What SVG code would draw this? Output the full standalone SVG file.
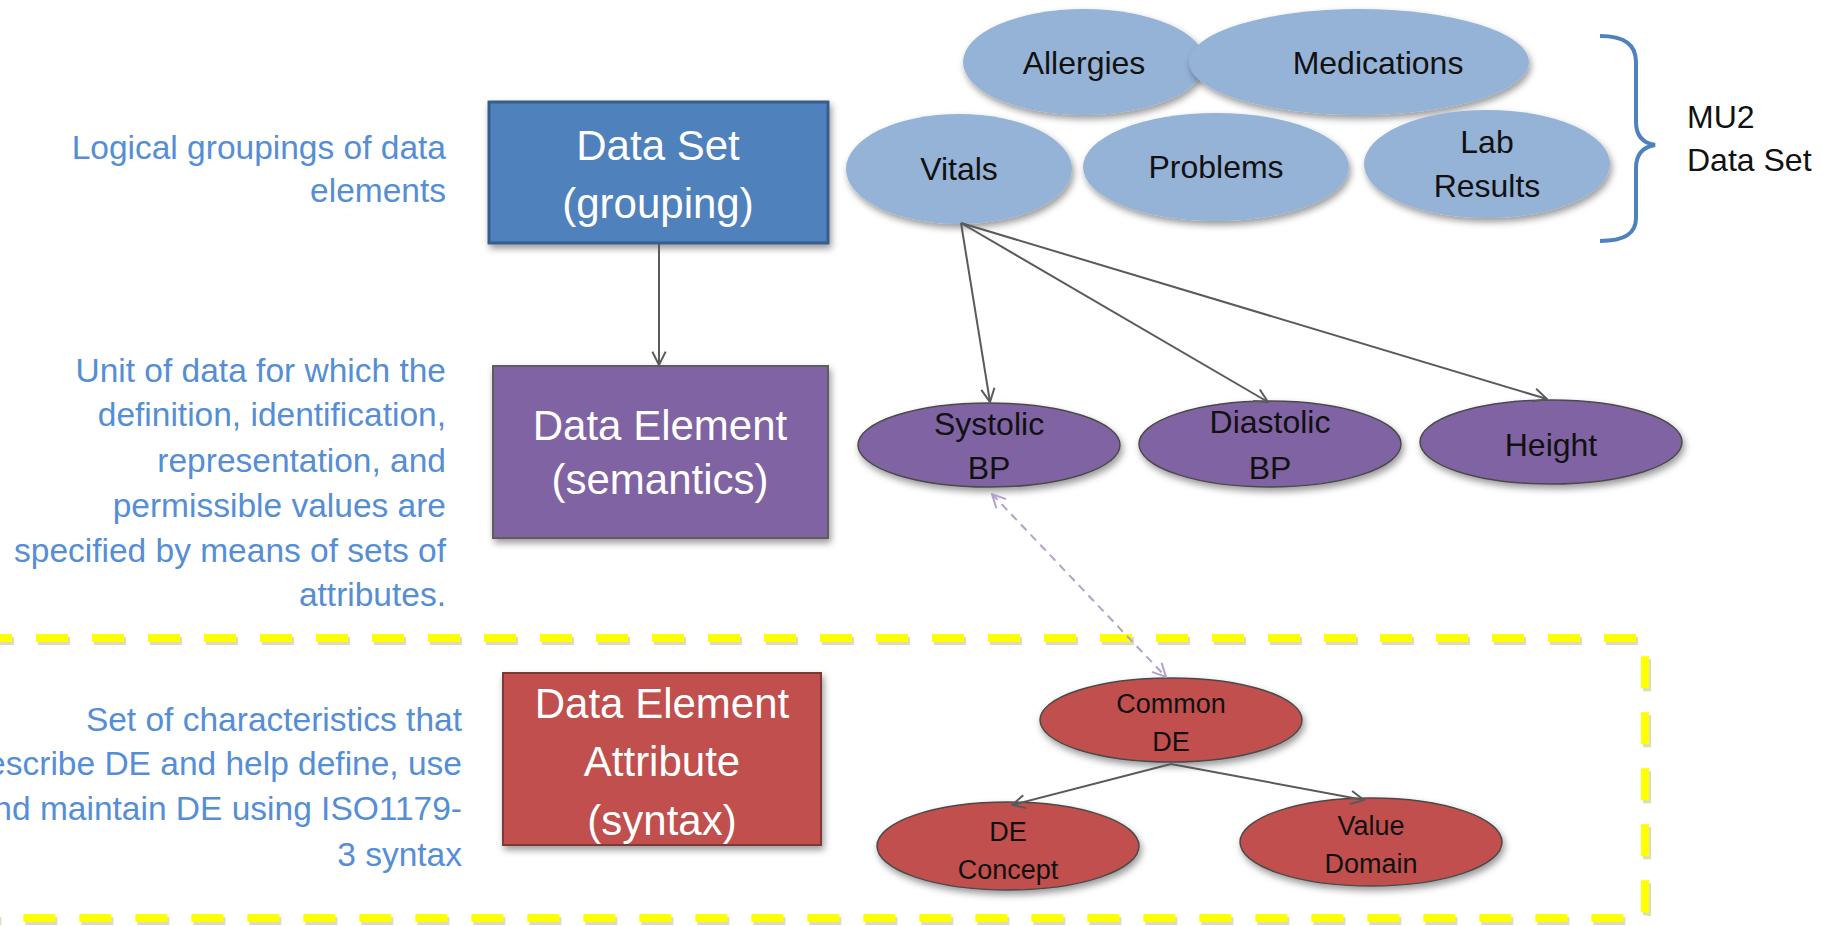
<svg xmlns="http://www.w3.org/2000/svg" width="1823" height="926" viewBox="0 0 1823 926">
<style>
.desc{font-family:"Liberation Sans",Arial,sans-serif;font-size:33.5px;fill:#558ED5;text-anchor:end}
.box{font-family:"Liberation Sans",Arial,sans-serif;font-size:42px;fill:#ffffff;text-anchor:middle}
.el{font-family:"Liberation Sans",Arial,sans-serif;font-size:32px;fill:#111111;text-anchor:middle}
.els{font-family:"Liberation Sans",Arial,sans-serif;font-size:27px;fill:#111111;text-anchor:middle}
.lbl{font-family:"Liberation Sans",Arial,sans-serif;font-size:32px;fill:#111111}
.conn{stroke:#5a5a5a;stroke-width:2;fill:none}
.dash{stroke:#b3a2c7;stroke-width:2;fill:none;stroke-dasharray:8 6}
.blue{fill:#95B3D7}
.purple{fill:#8064A2;stroke:#4a4a4a;stroke-width:1.5}
.red{fill:#C0504D;stroke:#4a4a4a;stroke-width:1.5}
</style>
<defs>
<filter id="sh" x="-20%" y="-20%" width="140%" height="150%">
<feDropShadow dx="2" dy="4" stdDeviation="3.5" flood-color="#000" flood-opacity="0.4"/>
</filter>
<marker id="ah" viewBox="0 0 12 12" refX="11" refY="6" markerWidth="16" markerHeight="16" markerUnits="userSpaceOnUse" orient="auto">
<path d="M1,1 L11,6 L1,11" fill="none" stroke="#5a5a5a" stroke-width="1.5"/>
</marker>
<marker id="ahl" viewBox="0 0 12 12" refX="11" refY="6" markerWidth="16" markerHeight="16" markerUnits="userSpaceOnUse" orient="auto-start-reverse">
<path d="M1,1 L11,6 L1,11" fill="none" stroke="#b3a2c7" stroke-width="1.5"/>
</marker>
</defs>
<rect width="1823" height="926" fill="#ffffff"/>

<g id="attribute-region">
<path d="M-20 638 L1637 638 Q1645 638 1645 646 L1645 910 Q1645 918 1637 918 L-20 918" fill="none" stroke="#9a9a40" stroke-opacity="0.35" stroke-width="8" stroke-dasharray="32 24" transform="translate(2,3)"/>
<path d="M-20 638 L1637 638 Q1645 638 1645 646 L1645 910 Q1645 918 1637 918 L-20 918" fill="none" stroke="#FFFF00" stroke-width="8" stroke-dasharray="32 24"/>
</g>

<g id="desc-dataset">
<text class="desc" x="446" y="159">Logical groupings of data</text>
<text class="desc" x="446" y="202">elements</text>
</g>
<g id="desc-dataelement">
<text class="desc" x="446" y="382">Unit of data for which the</text>
<text class="desc" x="446" y="426">definition, identification,</text>
<text class="desc" x="446" y="472">representation, and</text>
<text class="desc" x="446" y="517">permissible values are</text>
<text class="desc" x="446" y="562">specified by means of sets of</text>
<text class="desc" x="446" y="606">attributes.</text>
</g>
<g id="desc-attribute">
<text class="desc" x="462" y="731">Set of characteristics that</text>
<text class="desc" x="462" y="775">escribe DE and help define, use</text>
<text class="desc" x="462" y="820">nd maintain DE using ISO1179-</text>
<text class="desc" x="462" y="866">3 syntax</text>
</g>

<g id="data-set">
<rect x="489" y="102" width="339" height="141" fill="#4F81BD" stroke="#385D8A" stroke-width="3" filter="url(#sh)"/>
<text class="box" x="658" y="160">Data Set</text>
<text class="box" x="658" y="218">(grouping)</text>
</g>
<g id="data-element">
<rect x="493" y="366" width="335" height="172" fill="#8064A2" stroke="#5d5d5d" stroke-width="2" filter="url(#sh)"/>
<text class="box" x="660" y="440">Data Element</text>
<text class="box" x="660" y="494">(semantics)</text>
</g>
<g id="data-element-attribute">
<rect x="503" y="673" width="318" height="172" fill="#C0504D" stroke="#7a3a38" stroke-width="2" filter="url(#sh)"/>
<text class="box" x="662" y="718">Data Element</text>
<text class="box" x="662" y="776">Attribute</text>
<text class="box" x="662" y="835">(syntax)</text>
</g>

<g id="allergies">
<ellipse class="blue" cx="1084" cy="62" rx="121" ry="53" filter="url(#sh)"/>
<text class="el" x="1084" y="74">Allergies</text>
</g>
<g id="medications">
<ellipse class="blue" cx="1359" cy="62" rx="170" ry="53" filter="url(#sh)"/>
<text class="el" x="1378" y="74">Medications</text>
</g>
<g id="vitals">
<ellipse class="blue" cx="959" cy="169" rx="113" ry="55" filter="url(#sh)"/>
<text class="el" x="959" y="180">Vitals</text>
</g>
<g id="problems">
<ellipse class="blue" cx="1216" cy="167" rx="133" ry="54" filter="url(#sh)"/>
<text class="el" x="1216" y="178">Problems</text>
</g>
<g id="lab-results">
<ellipse class="blue" cx="1487" cy="164" rx="123" ry="54" filter="url(#sh)"/>
<text class="el" x="1487" y="153">Lab</text>
<text class="el" x="1487" y="197">Results</text>
</g>

<g id="mu2-data-set">
<path d="M1600 36 C1624 36 1636 44 1636 62 L1636 122 C1636 136 1643 143 1655 145 C1643 147 1636 154 1636 168 L1636 218 C1636 234 1624 241 1600 241" fill="none" stroke="#4F81BD" stroke-width="4"/>
<text class="lbl" x="1687" y="128">MU2</text>
<text class="lbl" x="1687" y="171">Data Set</text>
</g>

<g id="systolic-bp">
<ellipse class="purple" cx="989" cy="445" rx="131" ry="42" filter="url(#sh)"/>
<text class="el" x="989" y="435">Systolic</text>
<text class="el" x="989" y="479">BP</text>
</g>
<g id="diastolic-bp">
<ellipse class="purple" cx="1270" cy="444" rx="131" ry="43" filter="url(#sh)"/>
<text class="el" x="1270" y="433">Diastolic</text>
<text class="el" x="1270" y="479">BP</text>
</g>
<g id="height">
<ellipse class="purple" cx="1551" cy="442" rx="131" ry="42" filter="url(#sh)"/>
<text class="el" x="1551" y="456">Height</text>
</g>

<g id="common-de">
<ellipse class="red" cx="1171" cy="720" rx="131" ry="42" filter="url(#sh)"/>
<text class="els" x="1171" y="713">Common</text>
<text class="els" x="1171" y="751">DE</text>
</g>
<g id="de-concept">
<ellipse class="red" cx="1008" cy="846" rx="131" ry="44" filter="url(#sh)"/>
<text class="els" x="1008" y="841">DE</text>
<text class="els" x="1008" y="879">Concept</text>
</g>
<g id="value-domain">
<ellipse class="red" cx="1371" cy="842" rx="131" ry="44" filter="url(#sh)"/>
<text class="els" x="1371" y="835">Value</text>
<text class="els" x="1371" y="873">Domain</text>
</g>

<g id="connectors">
<line class="conn" x1="659" y1="243" x2="659" y2="365" marker-end="url(#ah)"/>
<line class="conn" x1="961" y1="223" x2="990" y2="402" marker-end="url(#ah)"/>
<line class="conn" x1="961" y1="223" x2="1268" y2="402" marker-end="url(#ah)"/>
<line class="conn" x1="961" y1="223" x2="1547" y2="399" marker-end="url(#ah)"/>
<line class="conn" x1="1171" y1="764" x2="1012" y2="805" marker-end="url(#ah)"/>
<line class="conn" x1="1171" y1="764" x2="1364" y2="800" marker-end="url(#ah)"/>
<line class="dash" x1="992" y1="494" x2="1166" y2="677" marker-start="url(#ahl)" marker-end="url(#ahl)"/>
</g>
</svg>
